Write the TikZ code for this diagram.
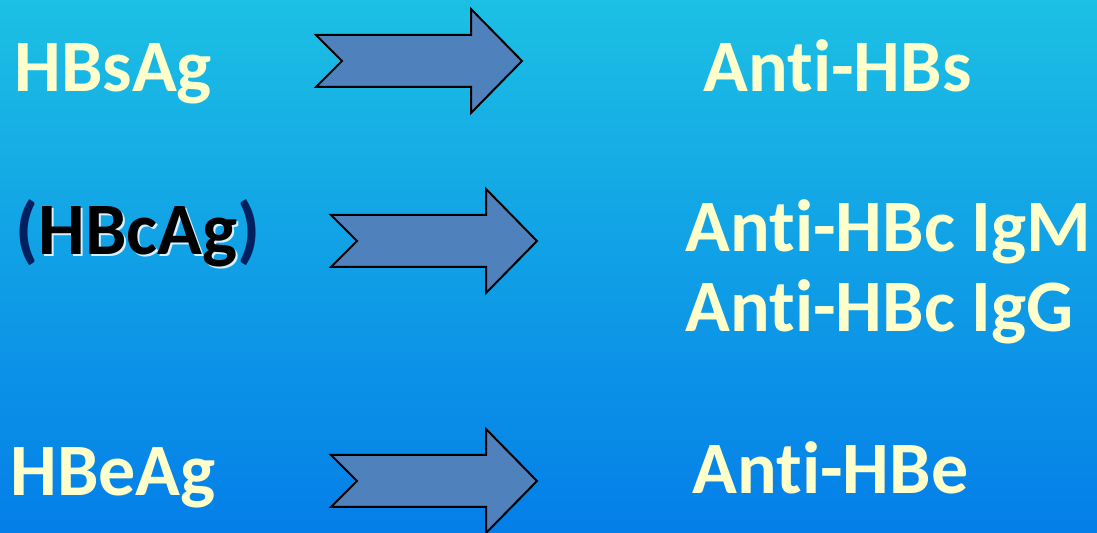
\documentclass[tikz,border=0pt]{standalone}
\usepackage{fontspec}
\setmainfont[Ligatures=CommonOff,Contextuals=AlternateOff]{Carlito}
\usepackage{xcolor}
\usetikzlibrary{positioning}
\definecolor{bgtop}{RGB}{28,192,228}
\definecolor{bgbottom}{RGB}{4,126,232}
\definecolor{agtext}{RGB}{255,255,204}
\definecolor{arrowfill}{RGB}{79,129,189}
\definecolor{parnavy}{RGB}{0,32,96}
\definecolor{glowwhite}{RGB}{215,242,252}
\newcommand{\glowword}[1]{\rlap{\kern1pt\raisebox{-1pt}{\color{glowwhite}#1}}#1}
\tikzset{
agname/.style={font=\fontsize{37}{40}\selectfont\bfseries,text=agtext,anchor=base west,inner sep=0pt},
abname/.style={agname},
fatarrow/.pic={
  \draw[fill=arrowfill,draw=black,line width=1pt,line join=miter]
    (0,-26)--(155,-26)--(155,-52)--(206,0)--(155,52)--(155,26)--(0,26)--(26,0)--cycle;
}
}
\begin{document}
\begin{tikzpicture}[x=0.5pt,y=-0.5pt]
\shade[top color=bgtop,bottom color=bgbottom] (0,0) rectangle (1097,533);
\useasboundingbox (0,0) rectangle (1097,533);
% antigens
\node[agname] (hbsag) at (14,92) {HBsAg};
\node[agname,text=black] (hbcag) at (15,255) {{\color{parnavy}(}\glowword{HBcAg}{\color{parnavy})}};
\node[agname] (hbeag) at (10,495) {HBeAg};
% arrows
\pic at (316,61) {fatarrow};
\pic at (331,241) {fatarrow};
\pic at (331,481) {fatarrow};
% antibodies
\node[abname] (antihbs) at (703,92) {Ant\kern0pt i-HBs};
\node[abname] (igm) at (685,252) {Ant\kern0pt i-HBc IgM};
\node[abname] (igg) at (685,332) {Ant\kern0pt i-HBc IgG};
\node[abname] (antihbe) at (692,494) {Ant\kern0pt i-HBe};
\end{tikzpicture}
\end{document}
